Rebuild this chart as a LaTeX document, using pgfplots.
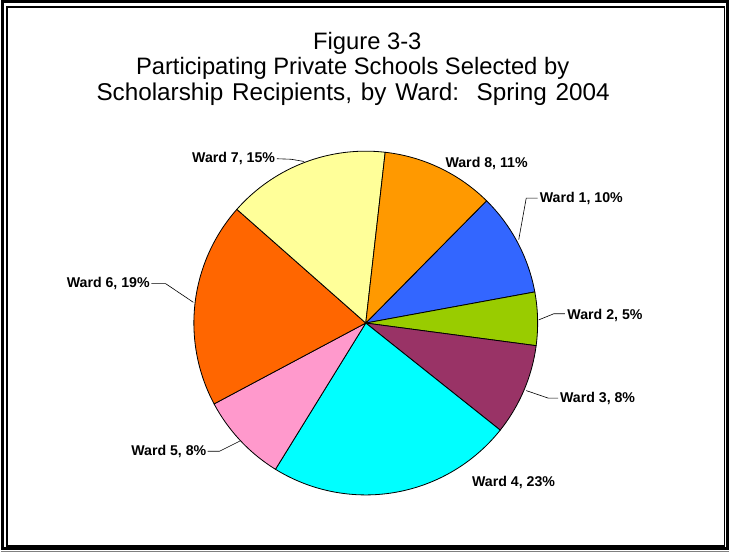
\documentclass[border=0pt]{standalone}
\usepackage{pgfplots}
\pgfplotsset{compat=1.18}
\usepackage{fontspec}
\setmainfont{Liberation Sans}
\definecolor{wA}{HTML}{3366FF}
\definecolor{wB}{HTML}{99CC00}
\definecolor{wC}{HTML}{993366}
\definecolor{wD}{HTML}{00FFFF}
\definecolor{wE}{HTML}{FF99CC}
\definecolor{wF}{HTML}{FF6600}
\definecolor{wG}{HTML}{FFFF99}
\definecolor{wH}{HTML}{FF9900}
% shares (percent) of Wards 1..8
\def\pA{9.7}\def\pB{5.0}\def\pC{8.6}\def\pD{23.1}
\def\pE{8.4}\def\pF{19.3}\def\pG{15.3}\def\pH{10.6}
\pgfmathsetmacro\bA{45.35}
\pgfmathsetmacro\bB{\bA-3.6*\pA}
\pgfmathsetmacro\bC{\bB-3.6*\pB}
\pgfmathsetmacro\bD{\bC-3.6*\pC}
\pgfmathsetmacro\bE{\bD-3.6*\pD}
\pgfmathsetmacro\bF{\bE-3.6*\pE}
\pgfmathsetmacro\bG{\bF-3.6*\pF}
\pgfmathsetmacro\bH{\bG-3.6*\pG}
\pgfmathsetmacro\bI{\bH-3.6*\pH}
\def\cx{368}\def\cy{322.5}\def\rr{170}
\newcommand\lab{\fontsize{14bp}{16bp}\selectfont\bfseries}
\begin{document}
\begin{tikzpicture}
\begin{axis}[width=730bp,height=550bp,scale only axis,
  xmin=0,xmax=730,ymin=0,ymax=550,y dir=reverse,hide axis,clip=false]
% frame
\draw[black,line width=3bp] (axis cs:8.5,4.5) rectangle (axis cs:726,545.5);
\draw[black,line width=1.5bp] (axis cs:13,10) rectangle (axis cs:723,543);
\draw[gray,line width=1.5bp] (axis cs:7,548.3) -- (axis cs:727.5,548.3);
% title
\node[anchor=base,inner sep=0pt,font=\fontsize{23.5bp}{25bp}\selectfont] at (axis cs:369.5,51.5) {Figure 3-3};
\node[anchor=base,inner sep=0pt,font=\fontsize{23.5bp}{25bp}\selectfont] at (axis cs:355,76.5) {Participating Private Schools Selected by};
\node[anchor=base,inner sep=0pt,font=\fontsize{24bp}{25bp}\selectfont] at (axis cs:355.5,102) {\spaceskip=8.7bp Scholarship Recipients, by Ward:\ \ Spring 2004};
% slices
\addplot[fill=wA,draw=black,line width=0.8bp,domain=\bB:\bA,samples=60,variable=\t]
  ({\cx+\rr*cos(\t)},{\cy-\rr*sin(\t)}) -- (axis cs:\cx,\cy) -- cycle;
\addplot[fill=wB,draw=black,line width=0.8bp,domain=\bC:\bB,samples=60,variable=\t]
  ({\cx+\rr*cos(\t)},{\cy-\rr*sin(\t)}) -- (axis cs:\cx,\cy) -- cycle;
\addplot[fill=wC,draw=black,line width=0.8bp,domain=\bD:\bC,samples=60,variable=\t]
  ({\cx+\rr*cos(\t)},{\cy-\rr*sin(\t)}) -- (axis cs:\cx,\cy) -- cycle;
\addplot[fill=wD,draw=black,line width=0.8bp,domain=\bE:\bD,samples=80,variable=\t]
  ({\cx+\rr*cos(\t)},{\cy-\rr*sin(\t)}) -- (axis cs:\cx,\cy) -- cycle;
\addplot[fill=wE,draw=black,line width=0.8bp,domain=\bF:\bE,samples=60,variable=\t]
  ({\cx+\rr*cos(\t)},{\cy-\rr*sin(\t)}) -- (axis cs:\cx,\cy) -- cycle;
\addplot[fill=wF,draw=black,line width=0.8bp,domain=\bG:\bF,samples=80,variable=\t]
  ({\cx+\rr*cos(\t)},{\cy-\rr*sin(\t)}) -- (axis cs:\cx,\cy) -- cycle;
\addplot[fill=wG,draw=black,line width=0.8bp,domain=\bH:\bG,samples=60,variable=\t]
  ({\cx+\rr*cos(\t)},{\cy-\rr*sin(\t)}) -- (axis cs:\cx,\cy) -- cycle;
\addplot[fill=wH,draw=black,line width=0.8bp,domain=\bI:\bH,samples=60,variable=\t]
  ({\cx+\rr*cos(\t)},{\cy-\rr*sin(\t)}) -- (axis cs:\cx,\cy) -- cycle;
% leader lines
\addplot[black,line width=0.6bp] coordinates {(280,160) (294,160.5) (307,162.7)};
\addplot[black,line width=0.6bp] coordinates {(538,199) (526.7,199) (519.3,240)};
\addplot[black,line width=0.6bp] coordinates {(565,313.3) (554,313.3) (539.3,319.3)};
\addplot[black,line width=0.6bp] coordinates {(558.3,396.7) (548.3,396.7) (526.7,389.3)};
\addplot[black,line width=0.6bp] coordinates {(211.7,449.3) (223.3,449.3) (243.3,439.3)};
\addplot[black,line width=0.6bp] coordinates {(156,283.5) (170,283.5) (197.5,302)};
% labels
\node[anchor=east,inner sep=0pt,font=\lab] at (axis cs:278.5,160) {Ward 7, 15\%};
\node[anchor=west,inner sep=0pt,font=\lab] at (axis cs:446.7,165) {Ward 8, 11\%};
\node[anchor=west,inner sep=0pt,font=\lab] at (axis cs:540,199) {Ward 1, 10\%};
\node[anchor=west,inner sep=0pt,font=\lab] at (axis cs:567.3,315) {Ward 2, 5\%};
\node[anchor=west,inner sep=0pt,font=\lab] at (axis cs:560,397.5) {Ward 3, 8\%};
\node[anchor=west,inner sep=0pt,font=\lab] at (axis cs:473,480) {Ward 4, 23\%};
\node[anchor=east,inner sep=0pt,font=\lab] at (axis cs:210.5,450) {Ward 5, 8\%};
\node[anchor=east,inner sep=0pt,font=\lab] at (axis cs:154.5,283.5) {Ward 6, 19\%};
\end{axis}
\end{tikzpicture}
\end{document}
